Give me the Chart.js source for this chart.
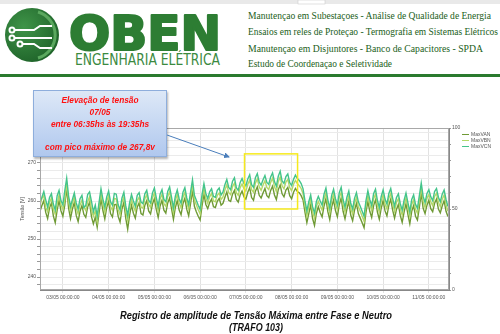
<!DOCTYPE html>
<html>
<head>
<meta charset="utf-8">
<script src="https://cdn.jsdelivr.net/npm/chart.js@4.4.1/dist/chart.umd.min.js"></script>
<style>
  body { margin: 0; width: 500px; height: 334px; background: #fff; overflow: hidden; position: relative; font-family: 'Liberation Sans', Arial, sans-serif; }
  #header { position: absolute; left: 0; top: 0; }
  #grafico { position: absolute; left: 0; top: 118px; }
  .callout {
    position: absolute; left: 33px; top: 90px; width: 134px; height: 67px; box-sizing: border-box;
    background: linear-gradient(#dde8f7, #b0c8ee); border: 1px solid #8eaedc;
    box-shadow: 1px 2px 2px rgba(0,0,0,0.3);
    color: #ff1010; font-style: italic; font-weight: bold; font-size: 8.3px; line-height: 11.75px;
    text-align: center; padding-top: 4px;
  }
  .legenda { position: absolute; left: 462px; top: 131px; font-size: 5px; color: #555; line-height: 6px; }
  .legenda span { display: inline-block; width: 7px; height: 1.3px; vertical-align: middle; margin-right: 2px; }
  #overlay { position: absolute; left: 0; top: 0; pointer-events: none; }
</style>
</head>
<body>

<!-- cabeçalho da OBEN -->
<svg id="header" width="500" height="80">
  <defs>
    <radialGradient id="gLogo" cx="0.35" cy="0.35" r="0.75">
      <stop offset="0" stop-color="#3f9448"/>
      <stop offset="1" stop-color="#1d6128"/>
    </radialGradient>
  </defs>
  <rect x="0" y="0" width="500" height="4" fill="#e9e9e9"/>
  <rect x="298" y="0" width="27" height="4" fill="#fff" stroke="#ccc" stroke-width="0.6"/>
  <circle cx="32" cy="35" r="27" fill="url(#gLogo)"/>
  <path d="M 38 12 A 24 24 0 0 1 38 58" stroke="#5aa85e" stroke-width="3" fill="none"/>
  <g stroke="#fff" stroke-width="2" fill="none">
    <circle cx="12" cy="30" r="2.5"/>
    <circle cx="12" cy="38" r="2.5"/>
    <circle cx="20" cy="44" r="2.5"/>
    <path d="M 14.5 30 L 34 30 L 40 26 L 52 26"/>
    <path d="M 14.5 38 L 52 38"/>
    <path d="M 22.5 44 L 34 44 L 40 48 L 52 48"/>
  </g>
  <text x="69" y="50" font-family="DejaVu Sans" font-weight="bold" font-size="48" fill="#2d7d33" stroke="#2d7d33" stroke-width="2.2" stroke-linejoin="round" textLength="152" lengthAdjust="spacingAndGlyphs">OBEN</text>
  <text x="75" y="65" font-family="DejaVu Sans" font-size="16" fill="#3b8a3f" textLength="145" lengthAdjust="spacingAndGlyphs">ENGENHARIA ELÉTRICA</text>
  <g font-family="Liberation Serif" font-size="10.5" fill="#1b5e20">
    <text x="248" y="19" textLength="243" lengthAdjust="spacingAndGlyphs">Manutençao em Subestaçoes  - Análise de Qualidade de Energia</text>
    <text x="248" y="35" textLength="250" lengthAdjust="spacingAndGlyphs">Ensaios em reles de Proteçao - Termografia em Sistemas Elétricos</text>
    <text x="248" y="52" textLength="235" lengthAdjust="spacingAndGlyphs">Manutençao em Disjuntores -  Banco de Capacitores  - SPDA</text>
    <text x="248" y="67" textLength="144" lengthAdjust="spacingAndGlyphs">Estudo de Coordenaçao e Seletividade</text>
  </g>
  <rect x="0" y="74" width="500" height="3" fill="#2a7a2e"/>
</svg>

<canvas id="grafico" width="500" height="190"></canvas>

<div class="legenda">
  <div><span style="background:#6f9a35"></span>MaxVAN</div>
  <div><span style="background:#b4d868"></span>MaxVBN</div>
  <div><span style="background:#45c48a"></span>MaxVCN</div>
</div>

<div class="callout">Elevação de tensão<br>07/05<br>entre 06:35hs às 19:35hs<br><br>com pico máximo de 267,8v</div>

<svg id="overlay" width="500" height="334">
  <defs>
    <marker id="seta" markerWidth="6" markerHeight="6" refX="5" refY="3" orient="auto">
      <path d="M0,0 L6,3 L0,6 Z" fill="#4a7ebb"/>
    </marker>
  </defs>
  <line x1="167" y1="135" x2="229" y2="157" stroke="#4a7ebb" stroke-width="1" marker-end="url(#seta)"/>
  <g font-family="Liberation Sans" font-weight="bold" font-style="italic" font-size="10.5" fill="#111">
    <text x="120" y="319" textLength="272" lengthAdjust="spacingAndGlyphs">Registro de amplitude de Tensão Máxima entre Fase e Neutro</text>
    <text x="229" y="331" textLength="54" lengthAdjust="spacingAndGlyphs">(TRAFO 103)</text>
  </g>
</svg>

<script>
// amostras a cada 1 hora, começando em 02/05 12:00
const sampleStartDay = 2.5;
const sampleStepDays = 1 / 24;

// rótulos do eixo x (meia-noite de cada dia)
const tickLabels = ['03/05 00:00:00', '04/05 00:00:00', '05/05 00:00:00', '06/05 00:00:00', '07/05 00:00:00',
  '08/05 00:00:00', '09/05 00:00:00', '10/05 00:00:00', '11/05 00:00:00'];

// tensão máxima fase-neutro (V)
const maxVAN = [
  257.3, 258.8, 260.1, 257.0, 255.4, 258.2, 259.5, 256.1, 254.3, 257.6, 260.2, 257.4, 256.0, 258.9, 263.4, 258.1,
  255.4, 257.9, 259.6, 256.2, 254.6, 257.3, 258.8, 256.5, 255.7, 258.4, 259.7, 255.9, 254.0, 255.8, 253.1, 257.0,
  260.6, 257.5, 255.3, 258.3, 259.9, 256.7, 255.8, 259.0, 259.1, 256.0, 254.5, 257.9, 259.6, 255.4, 252.6, 256.3,
  258.9, 256.8, 255.5, 258.4, 259.5, 256.7, 256.3, 258.9, 260.1, 257.4, 256.6, 259.2, 260.6, 257.8, 255.7, 258.7,
  260.2, 257.6, 256.8, 259.5, 260.8, 258.0, 255.2, 258.3, 260.1, 257.6, 256.4, 259.3, 260.7, 257.8, 256.1, 259.4,
  262.7, 258.6, 257.2, 256.0, 255.0, 258.7, 261.8, 259.1, 258.0, 259.6, 260.5, 258.5, 258.3, 259.9, 260.7, 258.9,
  259.4, 261.0, 262.4, 260.2, 259.9, 261.8, 262.8, 260.4, 259.7, 261.6, 262.6, 261.1, 260.5, 262.3, 263.5, 260.9,
  260.2, 262.6, 263.7, 261.5, 260.8, 262.1, 263.3, 261.4, 260.9, 262.8, 263.9, 261.6, 260.4, 263.0, 264.2, 261.9,
  261.1, 262.9, 263.6, 261.4, 260.6, 262.3, 263.3, 262.5, 262.2, 261.4, 260.3, 257.1, 254.3, 256.7, 259.0, 255.4,
  253.6, 256.8, 258.5, 256.9, 255.8, 258.7, 260.6, 257.2, 255.1, 258.4, 260.3, 257.5, 255.9, 259.1, 260.8, 257.3,
  255.3, 257.9, 259.9, 256.3, 254.8, 257.6, 259.4, 256.7, 255.5, 254.3, 253.0, 257.0, 259.9, 257.3, 255.7, 258.8,
  260.3, 257.1, 255.2, 258.1, 260.1, 257.4, 256.1, 258.9, 260.5, 257.6, 255.5, 257.8, 259.1, 256.2, 254.4, 257.1,
  259.3, 256.5, 254.0, 257.3, 258.8, 256.0, 255.0, 258.3, 262.0, 258.1, 256.7, 258.9, 260.2, 258.0, 257.2, 259.4,
  260.5, 257.9, 256.9, 258.7, 260.1, 257.3, 255.9
];
const maxVBN = [
  258.9, 260.7, 261.4, 258.3, 257.2, 259.6, 260.8, 257.9, 256.5, 259.2, 261.6, 259.0, 257.8, 260.3, 264.6, 259.9,
  257.3, 259.5, 261.0, 258.1, 256.6, 258.9, 260.2, 258.4, 257.5, 259.8, 261.1, 257.7, 256.0, 257.4, 254.6, 258.8,
  262.0, 259.2, 257.1, 259.9, 261.4, 258.5, 257.6, 260.7, 260.5, 257.8, 256.4, 259.7, 261.0, 257.3, 254.9, 258.2,
  260.4, 258.6, 257.3, 260.1, 261.0, 258.4, 258.1, 260.6, 261.6, 259.1, 258.3, 260.8, 262.1, 259.5, 257.4, 260.5,
  261.8, 259.3, 258.6, 261.2, 262.4, 259.8, 257.0, 260.1, 261.7, 259.4, 258.2, 261.0, 262.3, 259.6, 257.9, 261.1,
  264.2, 260.3, 259.0, 257.7, 256.6, 260.4, 263.3, 260.8, 259.4, 261.1, 262.0, 260.0, 259.8, 261.5, 262.1, 260.4,
  261.1, 262.9, 264.3, 262.2, 261.7, 263.8, 264.7, 262.2, 261.5, 263.5, 264.5, 263.2, 262.6, 264.4, 265.5, 263.0,
  262.3, 264.7, 265.8, 263.7, 262.8, 264.2, 265.3, 263.6, 263.0, 264.9, 266.0, 263.8, 262.5, 265.1, 266.3, 264.0,
  263.2, 265.0, 265.7, 263.5, 262.7, 264.4, 265.4, 264.6, 264.0, 263.3, 261.9, 258.8, 256.1, 258.5, 260.4, 257.2,
  255.5, 258.6, 259.9, 258.7, 257.6, 260.5, 262.1, 259.0, 256.9, 260.2, 261.8, 259.3, 257.7, 260.9, 262.3, 259.1,
  257.1, 259.7, 261.3, 258.1, 256.6, 259.4, 260.9, 258.5, 257.3, 256.0, 254.7, 258.8, 261.4, 259.1, 257.5, 260.6,
  261.8, 258.9, 257.0, 259.9, 261.6, 259.2, 257.9, 260.7, 262.0, 259.4, 257.3, 259.6, 260.6, 258.0, 256.3, 258.9,
  260.8, 258.3, 255.9, 259.1, 260.3, 257.8, 256.8, 260.1, 263.4, 259.9, 258.3, 260.7, 261.7, 259.8, 258.8, 261.2,
  262.0, 259.7, 258.5, 260.5, 261.6, 259.1, 257.3
];
const maxVCN = [
  259.8, 261.0, 262.5, 260.3, 258.4, 260.9, 261.9, 259.2, 257.6, 261.4, 262.8, 260.1, 259.0, 262.7, 266.0, 261.3,
  258.6, 260.4, 262.1, 259.5, 257.9, 260.6, 261.5, 258.3, 258.8, 261.7, 262.4, 259.9, 257.2, 258.9, 256.0, 259.7,
  263.2, 260.5, 258.4, 261.1, 262.6, 259.8, 258.9, 262.0, 261.8, 259.0, 257.7, 260.8, 262.3, 258.7, 256.2, 259.6,
  261.7, 260.0, 258.6, 261.5, 262.2, 259.7, 259.3, 261.9, 262.8, 260.2, 259.5, 262.1, 263.4, 260.9, 258.6, 261.8,
  263.0, 260.4, 259.8, 262.5, 263.7, 261.0, 258.2, 261.3, 262.9, 260.6, 259.4, 262.3, 263.5, 260.8, 259.1, 262.4,
  265.6, 261.5, 260.2, 258.9, 257.8, 261.7, 264.6, 262.0, 260.6, 262.4, 263.2, 261.2, 261.0, 262.8, 263.4, 261.6,
  262.4, 264.3, 265.7, 263.6, 263.0, 265.2, 266.1, 263.5, 262.8, 264.9, 265.9, 264.6, 264.0, 265.8, 266.9, 264.3,
  263.6, 266.1, 267.2, 265.0, 264.2, 265.6, 266.7, 264.9, 264.4, 266.3, 267.4, 265.1, 263.9, 266.5, 267.8, 265.3,
  264.6, 266.4, 267.1, 264.8, 264.1, 265.7, 266.8, 265.9, 265.4, 264.6, 263.2, 260.1, 257.4, 259.8, 261.6, 258.5,
  256.8, 259.9, 261.2, 260.0, 258.9, 261.8, 263.4, 260.3, 258.2, 261.5, 263.1, 260.6, 259.0, 262.2, 263.6, 260.4,
  258.4, 261.0, 262.6, 259.4, 257.9, 260.7, 262.2, 259.8, 258.6, 257.3, 256.0, 260.1, 262.7, 260.4, 258.8, 261.9,
  263.1, 260.2, 258.3, 261.2, 262.9, 260.5, 259.2, 262.0, 263.3, 260.7, 258.6, 260.9, 261.9, 259.3, 257.6, 260.2,
  262.1, 259.6, 257.2, 260.4, 261.6, 259.1, 258.1, 261.4, 264.7, 261.2, 259.6, 262.0, 263.0, 261.1, 260.1, 262.5,
  263.3, 261.0, 259.8, 261.8, 262.9, 260.4, 258.6
];

// período destacado em amarelo (dias / volts)
const destaque = { from: 6.97, to: 8.13, low: 257.9, high: 272.4 };

function toPoints(arr) {
  return arr.map((v, i) => ({ x: sampleStartDay + i * sampleStepDays, y: v }));
}

// moldura da área do gráfico + retângulo amarelo
const molduraPlugin = {
  id: 'moldura',
  afterDatasetsDraw(chart) {
    const { ctx, chartArea, scales } = chart;
    ctx.save();
    ctx.strokeStyle = '#a8a8a8';
    ctx.lineWidth = 1;
    ctx.strokeRect(chartArea.left + 0.5, chartArea.top + 0.5, chartArea.width - 1, chartArea.height - 1);
    const x1 = scales.x.getPixelForValue(destaque.from);
    const x2 = scales.x.getPixelForValue(destaque.to);
    const y1 = scales.y.getPixelForValue(destaque.high);
    const y2 = scales.y.getPixelForValue(destaque.low);
    ctx.strokeStyle = '#f6ea1c';
    ctx.lineWidth = 1.5;
    ctx.strokeRect(x1, y1, x2 - x1, y2 - y1);
    ctx.restore();
  }
};

Chart.defaults.font.family = "'Liberation Sans', Arial, sans-serif";

var chartArea = document.getElementById('grafico').getContext('2d');
var myChart = new Chart(chartArea, {
  type: 'line',
  data: {
    datasets: [
      { label: 'MaxVCN', data: toPoints(maxVCN), borderColor: '#43c48a', order: 1 },
      { label: 'MaxVBN', data: toPoints(maxVBN), borderColor: '#b4d868', order: 2 },
      { label: 'MaxVAN', data: toPoints(maxVAN), borderColor: '#6f9a35', order: 3 },
    ],
  },
  options: {
    responsive: false,
    animation: false,
    layout: { padding: { top: 10, left: 20, right: 31, bottom: 0 } },
    elements: {
      point: { radius: 0 },
      line: { borderWidth: 1.4, tension: 0 },
    },
    plugins: {
      legend: { display: false },
      tooltip: { enabled: false },
    },
    scales: {
      x: {
        type: 'linear',
        min: 2.5,
        max: 11.44,
        afterFit: (scale) => { scale.height = 18; },
        grid: {
          color: (c) => (c.tick && Number.isInteger(c.tick.value) ? '#e2e2e2' : 'rgba(0,0,0,0)'),
          tickLength: 3,
        },
        border: { color: '#888' },
        ticks: {
          stepSize: 1,
          autoSkip: false,
          includeBounds: false,
          maxRotation: 0,
          padding: 2,
          font: { size: 5 },
          color: '#555',
          callback: (v) => (Number.isInteger(v) && tickLabels[v - 3] ? tickLabels[v - 3] : ''),
        },
      },
      y: {
        position: 'left',
        min: 236.6,
        max: 279.2,
        afterFit: (scale) => { scale.width = 20; },
        grid: { color: '#ebebeb', tickColor: '#999', tickLength: 3 },
        border: { color: '#888' },
        title: { display: true, text: 'Tensão [V]', font: { size: 5 }, color: '#555', padding: 0 },
        ticks: {
          stepSize: 2,
          autoSkip: false,
          includeBounds: false,
          padding: 1,
          font: { size: 5 },
          color: '#555',
          callback: (v) => (Math.abs(v / 10 - Math.round(v / 10)) < 0.001 ? Math.round(v) : ''),
        },
      },
      y1: {
        position: 'right',
        min: 0,
        max: 100,
        afterFit: (scale) => { scale.width = 20; },
        grid: { drawOnChartArea: false, color: '#999', tickLength: 2 },
        border: { color: '#888' },
        ticks: {
          stepSize: 10,
          autoSkip: false,
          padding: 1,
          font: { size: 5 },
          color: '#555',
          callback: (v) => (v % 50 === 0 ? v : ''),
        },
      },
    },
  },
  plugins: [molduraPlugin],
});
</script>
</body>
</html>
